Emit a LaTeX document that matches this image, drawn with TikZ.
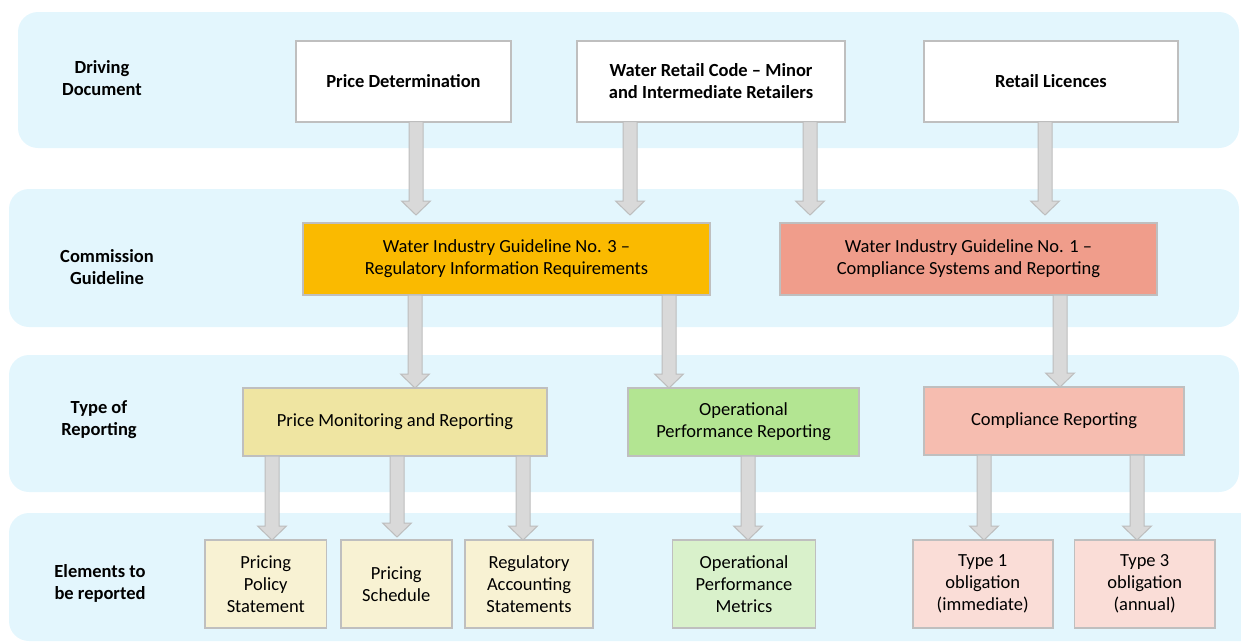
\documentclass[tikz,border=0pt]{standalone}
\usepackage{fontspec}
\setmainfont{Carlito}
\usetikzlibrary{calc}
\definecolor{bandblue}{HTML}{E3F6FD}
\definecolor{boxdraw}{HTML}{BFBFBF}
\definecolor{arrfill}{HTML}{D9D9D9}
\definecolor{arrdraw}{HTML}{BDBDBD}
\definecolor{gold}{HTML}{FABA00}
\definecolor{salmon}{HTML}{F09D8B}
\definecolor{khaki}{HTML}{EFE5A2}
\definecolor{lgreen}{HTML}{B3E592}
\definecolor{lsalmon}{HTML}{F6BDB0}
\definecolor{cream}{HTML}{F8F2D3}
\definecolor{pgreen}{HTML}{D9F1CB}
\definecolor{pink}{HTML}{FADDD7}
\newcommand\blockarr[4]{%
  \draw[blk] let \p1=(#1.south), \p2=(#2.north), \p3=(#3,0) in
    (\x3-7pt,\y1) -- (\x3-7pt,\y2+#4pt+14pt) -- (\x3-14.5pt,\y2+#4pt+14pt)
    -- (\x3,\y2+#4pt) -- (\x3+14.5pt,\y2+#4pt+14pt) -- (\x3+7pt,\y2+#4pt+14pt)
    -- (\x3+7pt,\y1) -- cycle;}
\begin{document}
\begin{tikzpicture}[x=1pt,y=-1pt,
  txt/.style={font=\fontsize{18.5}{22}\selectfont, align=center},
  lbl/.style={txt, font=\fontsize{18.5}{22}\selectfont\bfseries},
  box/.style={txt, draw=boxdraw, line width=1.6pt, inner sep=0pt, outer sep=0pt},
  band/.style={fill=bandblue, rounded corners=20pt},
  blk/.style={fill=arrfill, draw=arrdraw, line width=1pt, line join=miter}]
\useasboundingbox (0,0) rectangle (1241,643);
% bands
\fill[band] (18,12) rectangle (1239,148);
\fill[band] (9,189) rectangle (1239,327);
\fill[band] (9,355) rectangle (1239,492);
\fill[band] (9,513) rectangle (1262,641);
% row labels
\node[lbl] (l1) at (102,78) {Driving\\Document};
\node[lbl] (l2) at (107,267) {Commission\\Guideline};
\node[lbl] (l3) at (99,420) {Type of\\Reporting};
\node[lbl] (l4) at (100,583) {Elements to\\be reported};
% row 1
\node[box, fill=white, font=\fontsize{18.5}{22}\selectfont\bfseries, minimum width=215pt, minimum height=81pt] (pd) at (403.5,81.2) {Price Determination};
\node[box, fill=white, font=\fontsize{18.5}{22}\selectfont\bfseries, minimum width=268pt, minimum height=81pt] (wrc) at (711,81.2) {Water Retail Code – Minor\\and Intermediate Retailers};
\node[box, fill=white, font=\fontsize{18.5}{22}\selectfont\bfseries, minimum width=254pt, minimum height=81pt] (rl) at (1051,81.2) {Retail Licences};
% row 2
\node[box, fill=gold, minimum width=407pt, minimum height=72pt] (wig3) at (506.5,259) {Water Industry Guideline No. 3 –\\Regulatory Information Requirements};
\node[box, fill=salmon, minimum width=377pt, minimum height=72pt] (wig1) at (968.5,259) {Water Industry Guideline No. 1 –\\Compliance Systems and Reporting};
% row 3
\node[box, fill=khaki, minimum width=304pt, minimum height=68pt] (pm) at (395,422) {Price Monitoring and Reporting};
\node[box, fill=lgreen, minimum width=231pt, minimum height=68pt] (opr) at (743.5,422) {Operational\\Performance Reporting};
\node[box, fill=lsalmon, minimum width=260pt, minimum height=68pt] (cr) at (1054,421) {Compliance Reporting};
% row 4
\node[box, fill=cream, minimum width=121.5pt, minimum height=88pt] (pps) at (265.8,584) {Pricing\\Policy\\Statement};
\node[box, fill=cream, minimum width=111pt, minimum height=88pt] (ps) at (396.3,584) {Pricing\\Schedule};
\node[box, fill=cream, minimum width=128pt, minimum height=88pt] (ras) at (529,584) {Regulatory\\Accounting\\Statements};
\node[box, fill=pgreen, minimum width=143pt, minimum height=88pt] (opm) at (744,584) {Operational\\Performance\\Metrics};
\node[box, fill=pink, minimum width=140pt, minimum height=88pt] (t1) at (982.7,584) {Type 1\\obligation\\(immediate)};
\node[box, fill=pink, minimum width=140.5pt, minimum height=88pt] (t3) at (1144.7,584) {Type 3\\obligation\\(annual)};
% arrows
\blockarr{pd}{wig3}{416}{8}
\blockarr{wrc}{wig3}{630}{8}
\blockarr{wrc}{wig1}{810}{8}
\blockarr{rl}{wig1}{1045}{8}
\blockarr{wig3}{pm}{415}{0}
\blockarr{wig3}{opr}{669}{0}
\blockarr{wig1}{cr}{1060}{0}
\blockarr{pm}{pps}{272}{0}
\blockarr{pm}{ps}{397}{3}
\blockarr{pm}{ras}{523}{0}
\blockarr{opr}{opm}{748}{0}
\blockarr{cr}{t1}{984}{0}
\blockarr{cr}{t3}{1137}{0}
\end{tikzpicture}
\end{document}
